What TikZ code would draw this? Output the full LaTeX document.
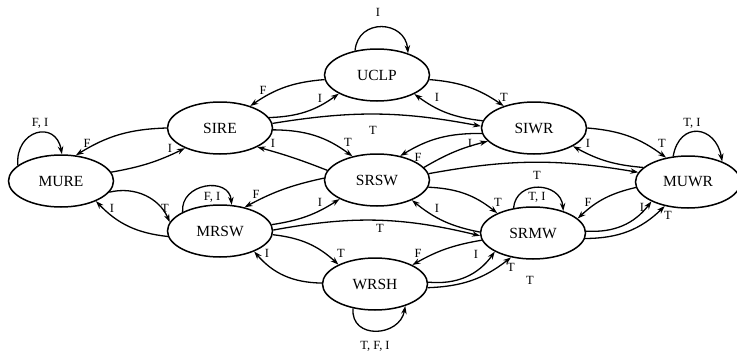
\documentclass[tikz,border=0pt]{standalone}
\usepackage{fontspec}
\setmainfont{Liberation Serif}
\usetikzlibrary{shapes.geometric,arrows.meta}
\tikzset{
  st/.style={ellipse, draw, line width=1.5pt, minimum width=105pt, minimum height=52pt, inner sep=0pt, font=\fontsize{15.5}{18}\selectfont},
  arr/.style={line width=1.3pt, -{Stealth[length=8pt,width=5.5pt]}},
  lab/.style={font=\fontsize{12.5}{14}\selectfont, inner sep=0pt}
}
\begin{document}
\begin{tikzpicture}[x=1pt,y=1pt]
\useasboundingbox (0,0) rectangle (737,-351);
% states
\node[st] (mure) at (61,-181) {MURE};
\node[st] (sire) at (220,-128) {SIRE};
\node[st] (uclp) at (377,-75) {UCLP};
\node[st] (siwr) at (534,-128) {SIWR};
\node[st] (muwr) at (688,-182) {MUWR};
\node[st] (srsw) at (377,-180) {SRSW};
\node[st] (mrsw) at (220,-231) {MRSW};
\node[st] (srmw) at (533,-233) {SRMW};
\node[st] (wrsh) at (375,-284) {WRSH};
% transitions
\draw[arr] (mure.160) to[out=95,in=100,looseness=2] (mure.88);
\draw[arr] (sire.180) to[bend right=15] (mure.60);
\draw[arr] (mure.10) to[bend right=8] (sire.210);
\draw[arr] (mure.-13) to[bend left=40] (mrsw.170);
\draw[arr] (mrsw.186) to[bend left=20] (mure.330);
\draw[arr] (mrsw.153) to[out=95,in=95,looseness=1.5] (mrsw.66);
\draw[arr] (srsw.178) to[bend right=8] (mrsw.44);
\draw[arr] (mrsw.7) to[bend right=12] (srsw.207);
\draw[arr] (mrsw.1) to[bend left=12] (srmw.183);
\draw[arr] (mrsw.-4) to[bend left=18] (wrsh.152);
\draw[arr] (wrsh.179) to[bend left=24] (mrsw.329);
\draw[arr] (wrsh.228) to[out=265,in=260,looseness=1.55] (wrsh.324);
\draw[arr] (srmw.188) to[bend right=10] (wrsh.27);
\draw[arr] (wrsh.2) to[bend right=30] (srmw.206);
\draw[arr] (wrsh.-4) to[bend right=18] (srmw.228);
\draw[arr] (srmw.128) to[out=85,in=95,looseness=1.5] (srmw.36);
\draw[arr] (srsw.352) to[bend left=18] (srmw.151);
\draw[arr] (srmw.179) to[bend left=14] (srsw.330);
\draw[arr] (srsw.7) to[bend left=10] (muwr.169);
\draw[arr] (srsw.15) to[bend left=8] (siwr.196);
\draw[arr] (muwr.186) to[bend right=15] (srmw.18);
\draw[arr] (srmw.2) to[bend right=28] (muwr.208);
\draw[arr] (srmw.-6) to[bend right=22] (muwr.226);
\draw[arr] (muwr.120) to[out=80,in=100,looseness=1.9] (muwr.31);
\draw[arr] (siwr.0) to[bend left=16] (muwr.132);
\draw[arr] (muwr.162) to[bend left=12] (siwr.335);
\draw[arr] (sire.5) to[bend left=10] (siwr.178);
\draw[arr] (sire.-2) to[bend left=18] (srsw.136);
\draw[arr] (srsw.169) to[bend right=3] (sire.333);
\draw[arr] (siwr.186) to[bend right=16] (srsw.46);
\draw[arr] (uclp.185) to[bend right=15] (sire.36);
\draw[arr] (sire.12) to[bend right=17] (uclp.206);
\draw[arr] (uclp.-5) to[bend left=15] (siwr.144);
\draw[arr] (siwr.172) to[bend left=15] (uclp.333);
\draw[arr] (uclp.132) to[out=85,in=95,looseness=1.6] (uclp.35);
% labels
\node[lab] (l1) at (40,-123) {F, I};
\node[lab] (l2) at (87,-143) {F};
\node[lab] (l3) at (170,-148) {I};
\node[lab] (l4) at (165,-208) {T};
\node[lab] (l5) at (112,-208) {I};
\node[lab] (l6) at (212,-197) {F, I};
\node[lab] (l7) at (256,-194) {F};
\node[lab] (l8) at (320,-202) {I};
\node[lab] (l9) at (380,-228) {T};
\node[lab] (l10) at (341,-253) {T};
\node[lab] (l11) at (267,-253) {I};
\node[lab] (l12) at (375,-346) {T, F, I};
\node[lab] (l13) at (418,-253) {F};
\node[lab] (l14) at (476,-254) {I};
\node[lab] (l15) at (511,-267) {T};
\node[lab] (l16) at (530,-280) {T};
\node[lab] (l17) at (537,-197) {T, I};
\node[lab] (l18) at (537,-175) {T};
\node[lab] (l19) at (498,-202) {T};
\node[lab] (l20) at (437,-208) {I};
\node[lab] (l21) at (588,-202) {F};
\node[lab] (l22) at (642,-207) {I};
\node[lab] (l23) at (668,-215) {T};
\node[lab] (l24) at (692,-123) {T, I};
\node[lab] (l25) at (662,-143) {T};
\node[lab] (l26) at (588,-143) {I};
\node[lab] (l27) at (373,-130) {T};
\node[lab] (l28) at (348,-142) {T};
\node[lab] (l29) at (273,-143) {I};
\node[lab] (l30) at (418,-157) {F};
\node[lab] (l31) at (470,-143) {I};
\node[lab] (l32) at (263,-90) {F};
\node[lab] (l33) at (320,-98) {I};
\node[lab] (l34) at (504,-97) {T};
\node[lab] (l35) at (437,-97) {I};
\node[lab] (l36) at (378,-12) {I};
\end{tikzpicture}
\end{document}
